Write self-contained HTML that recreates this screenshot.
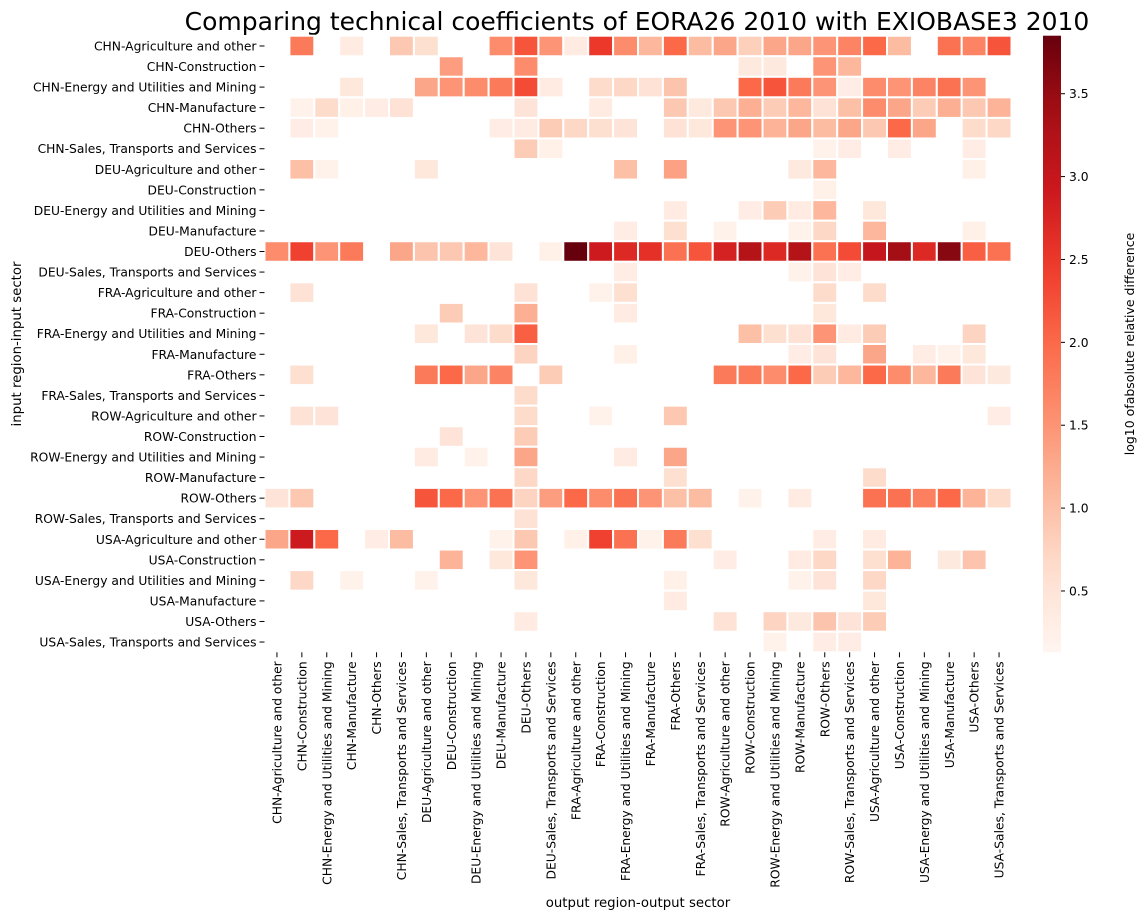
<!DOCTYPE html>
<html><head><meta charset="utf-8"><style>
body{margin:0;background:#fff;}
svg{display:block;font-family:"DejaVu Sans","Liberation Sans",sans-serif;}
</style></head><body>
<svg id="chart" width="1147" height="919"></svg>
<script>
const categories=["CHN-Agriculture and other","CHN-Construction","CHN-Energy and Utilities and Mining","CHN-Manufacture","CHN-Others","CHN-Sales, Transports and Services","DEU-Agriculture and other","DEU-Construction","DEU-Energy and Utilities and Mining","DEU-Manufacture","DEU-Others","DEU-Sales, Transports and Services","FRA-Agriculture and other","FRA-Construction","FRA-Energy and Utilities and Mining","FRA-Manufacture","FRA-Others","FRA-Sales, Transports and Services","ROW-Agriculture and other","ROW-Construction","ROW-Energy and Utilities and Mining","ROW-Manufacture","ROW-Others","ROW-Sales, Transports and Services","USA-Agriculture and other","USA-Construction","USA-Energy and Utilities and Mining","USA-Manufacture","USA-Others","USA-Sales, Transports and Services"];
// sparse cells: [row, col, value]
const cells=[
[0,1,1.8],[0,3,0.35],[0,5,0.9],[0,6,0.6],[0,9,1.6],[0,10,2.2],[0,11,1.5],[0,12,0.35],[0,13,2.5],[0,14,1.6],[0,15,1.1],[0,16,2.0],[0,17,1.05],[0,18,1.3],[0,19,0.8],[0,20,1.3],[0,21,1.3],[0,22,1.5],[0,23,1.7],[0,24,2.0],[0,25,1.05],[0,27,1.9],[0,28,1.7],[0,29,2.2],
[1,7,1.4],[1,10,1.6],[1,19,0.4],[1,20,0.4],[1,22,1.5],[1,23,1.1],
[2,3,0.45],[2,6,1.3],[2,7,1.5],[2,8,1.6],[2,9,1.8],[2,10,2.3],[2,11,0.35],[2,13,0.65],[2,14,0.7],[2,15,0.55],[2,16,0.95],[2,19,2.0],[2,20,2.2],[2,21,1.8],[2,22,1.5],[2,23,0.3],[2,24,1.6],[2,25,1.5],[2,26,1.7],[2,27,1.9],[2,28,1.5],
[3,1,0.2],[3,2,0.65],[3,3,0.25],[3,4,0.3],[3,5,0.55],[3,10,0.5],[3,13,0.35],[3,16,0.9],[3,17,0.4],[3,18,0.9],[3,19,1.2],[3,20,0.85],[3,21,1.1],[3,22,0.55],[3,23,1.0],[3,24,1.6],[3,25,1.3],[3,26,0.85],[3,27,1.2],[3,28,0.9],[3,29,1.15],
[4,1,0.3],[4,2,0.2],[4,9,0.3],[4,10,0.35],[4,11,0.85],[4,12,0.7],[4,13,0.6],[4,14,0.5],[4,16,0.55],[4,17,0.45],[4,18,1.5],[4,19,1.5],[4,20,1.15],[4,21,1.3],[4,22,1.05],[4,23,1.3],[4,24,0.9],[4,25,2.0],[4,26,1.3],[4,28,0.65],[4,29,0.7],
[5,10,0.85],[5,11,0.25],[5,22,0.2],[5,23,0.3],[5,25,0.3],[5,28,0.3],
[6,1,1.0],[6,2,0.2],[6,6,0.45],[6,14,1.0],[6,16,1.35],[6,21,0.4],[6,22,1.1],[6,28,0.25],
[7,22,0.25],
[8,16,0.35],[8,19,0.3],[8,20,0.85],[8,21,0.35],[8,22,1.1],[8,24,0.45],
[9,14,0.3],[9,16,0.6],[9,18,0.2],[9,21,0.2],[9,22,0.7],[9,24,1.1],[9,28,0.25],
[10,0,1.6],[10,1,2.4],[10,2,1.5],[10,3,1.8],[10,5,1.3],[10,6,0.95],[10,7,0.9],[10,8,1.1],[10,9,0.5],[10,11,0.25],[10,12,3.85],[10,13,2.9],[10,14,2.7],[10,15,2.6],[10,16,1.9],[10,17,2.2],[10,18,2.8],[10,19,3.2],[10,20,2.7],[10,21,3.2],[10,22,1.9],[10,23,2.3],[10,24,3.0],[10,25,3.4],[10,26,2.7],[10,27,3.6],[10,28,2.1],[10,29,1.9],
[11,14,0.3],[11,21,0.2],[11,22,0.5],[11,23,0.3],
[12,1,0.55],[12,10,0.55],[12,13,0.2],[12,14,0.6],[12,22,0.65],[12,24,0.65],
[13,7,0.85],[13,10,1.2],[13,14,0.35],[13,22,0.45],
[14,6,0.45],[14,8,0.5],[14,9,0.65],[14,10,2.1],[14,19,1.0],[14,20,0.6],[14,21,0.55],[14,22,1.5],[14,23,0.35],[14,24,0.85],[14,28,0.75],
[15,10,0.75],[15,14,0.25],[15,21,0.3],[15,22,0.5],[15,24,1.3],[15,26,0.3],[15,27,0.2],[15,28,0.45],
[16,1,0.6],[16,6,1.8],[16,7,2.0],[16,8,1.3],[16,9,1.7],[16,11,0.85],[16,18,1.8],[16,19,1.8],[16,20,1.6],[16,21,2.0],[16,22,0.85],[16,23,1.1],[16,24,2.0],[16,25,1.6],[16,26,1.1],[16,27,1.8],[16,28,0.5],[16,29,0.4],
[17,10,0.65],
[18,1,0.55],[18,2,0.5],[18,10,0.65],[18,13,0.2],[18,16,0.9],[18,29,0.3],
[19,7,0.5],[19,10,0.85],
[20,6,0.35],[20,8,0.2],[20,10,1.3],[20,14,0.35],[20,16,1.3],
[21,10,0.7],[21,16,0.6],[21,24,0.65],
[22,0,0.5],[22,1,0.9],[22,6,2.2],[22,7,2.0],[22,8,1.5],[22,9,1.9],[22,10,0.75],[22,11,1.4],[22,12,2.0],[22,13,1.6],[22,14,1.9],[22,15,1.5],[22,16,1.0],[22,17,1.05],[22,19,0.2],[22,21,0.35],[22,24,1.9],[22,25,1.9],[22,26,1.75],[22,27,2.0],[22,28,1.15],[22,29,0.65],
[23,10,0.55],
[24,0,1.3],[24,1,2.9],[24,2,2.0],[24,4,0.3],[24,5,1.05],[24,9,0.2],[24,10,0.9],[24,12,0.25],[24,13,2.4],[24,14,1.9],[24,15,0.2],[24,16,1.8],[24,17,0.6],[24,22,0.3],[24,24,0.35],
[25,7,1.15],[25,9,0.45],[25,10,1.5],[25,18,0.3],[25,21,0.35],[25,22,0.7],[25,24,0.6],[25,25,1.15],[25,27,0.4],[25,28,0.95],
[26,1,0.7],[26,3,0.2],[26,6,0.2],[26,10,0.45],[26,16,0.25],[26,21,0.2],[26,22,0.5],[26,24,0.7],
[27,16,0.35],[27,24,0.45],
[28,10,0.35],[28,18,0.55],[28,20,0.75],[28,21,0.4],[28,22,0.95],[28,23,0.5],[28,24,0.85],
[29,20,0.2],[29,22,0.3],[29,23,0.3]
];
const cbTicks=[0.5,1.0,1.5,2.0,2.5,3.0,3.5];
const vmin=0.13, vmax=3.85;

const NS="http://www.w3.org/2000/svg";
const svg=document.getElementById('chart');
function mk(tag,attrs,parent){const e=document.createElementNS(NS,tag);for(const k in attrs)e.setAttribute(k,attrs[k]);(parent||svg).appendChild(e);return e;}
const stops=["#fff5f0","#fee0d2","#fcbba1","#fc9272","#fb6a4a","#ef3b2c","#cb181d","#a50f15","#67000d"].map(h=>[parseInt(h.substr(1,2),16),parseInt(h.substr(3,2),16),parseInt(h.substr(5,2),16)]);
function color(v){let t=Math.max(0,Math.min(1,(v-vmin)/(vmax-vmin)))*(stops.length-1);let i=Math.min(Math.floor(t),stops.length-2),f=t-i;const c=stops[i].map((a,j)=>Math.round(a+(stops[i+1][j]-a)*f));return `rgb(${c[0]},${c[1]},${c[2]})`;}
const X0=264.5,X1=1011.5,Y0=35.7,Y1=652.3,n=categories.length;
const cw=(X1-X0)/n, ch=(Y1-Y0)/n;
const xs=i=>X0+i*cw, ys=i=>Y0+i*ch;

const t=mk('text',{x:637,y:30,'font-size':25,'text-anchor':'middle',fill:'#000'});
t.textContent="Comparing technical coefficients of EORA26 2010 with EXIOBASE3 2010";


const g=mk('g',{});

cells.forEach(c=>{const r=mk('rect',{x:xs(c[1]),y:ys(c[0]),width:cw,height:ch,fill:color(c[2]),stroke:'#fff','stroke-width':2},g);

});

categories.forEach((c,i)=>{
 const y=ys(i)+ch/2;
 mk('line',{x1:X0-5,x2:X0,y1:y,y2:y,stroke:'#000','stroke-width':1});
 const l=mk('text',{x:X0-8,y:y+4.5,'font-size':12.3,'text-anchor':'end',fill:'#000'});l.textContent=c;
 
 
 const x=xs(i)+cw/2;
 mk('line',{x1:x,x2:x,y1:Y1,y2:Y1+5,stroke:'#000','stroke-width':1});
 const lx=mk('text',{x:0,y:0,'font-size':12.3,'text-anchor':'end',fill:'#000',transform:`translate(${x+4.5},${Y1+9}) rotate(-90)`});lx.textContent=c;
 
 
});
const xt=mk('text',{x:638,y:907,'font-size':13.3,'text-anchor':'middle'});xt.textContent="output region-output sector";

const yt=mk('text',{x:0,y:0,'font-size':13.3,'text-anchor':'middle',transform:'translate(21,344) rotate(-90)'});yt.textContent="input region-input sector";


// colorbar
const CBX=1043,CBW=18;
const defs=mk('defs',{});const lg=mk('linearGradient',{id:'cbg',x1:0,y1:1,x2:0,y2:0},defs);
for(let k=0;k<=20;k++){mk('stop',{offset:k/20,'stop-color':color(vmin+(vmax-vmin)*k/20)},lg);}
const cb=mk('rect',{x:CBX,y:Y0,width:CBW,height:Y1-Y0,fill:'url(#cbg)'});

const cys=v=>Y1-(v-vmin)/(vmax-vmin)*(Y1-Y0);
cbTicks.forEach(v=>{const y=cys(v);mk('line',{x1:CBX+CBW,x2:CBX+CBW+4,y1:y,y2:y,stroke:'#000'});
 const l=mk('text',{x:CBX+CBW+8,y:y+4.5,'font-size':12.3});l.textContent=v.toFixed(1);
 
 });
const ct=mk('text',{x:0,y:0,'font-size':12.5,'text-anchor':'middle',transform:'translate(1134,344) rotate(-90)'});ct.textContent="log10 ofabsolute relative difference";

</script>
</body></html>
